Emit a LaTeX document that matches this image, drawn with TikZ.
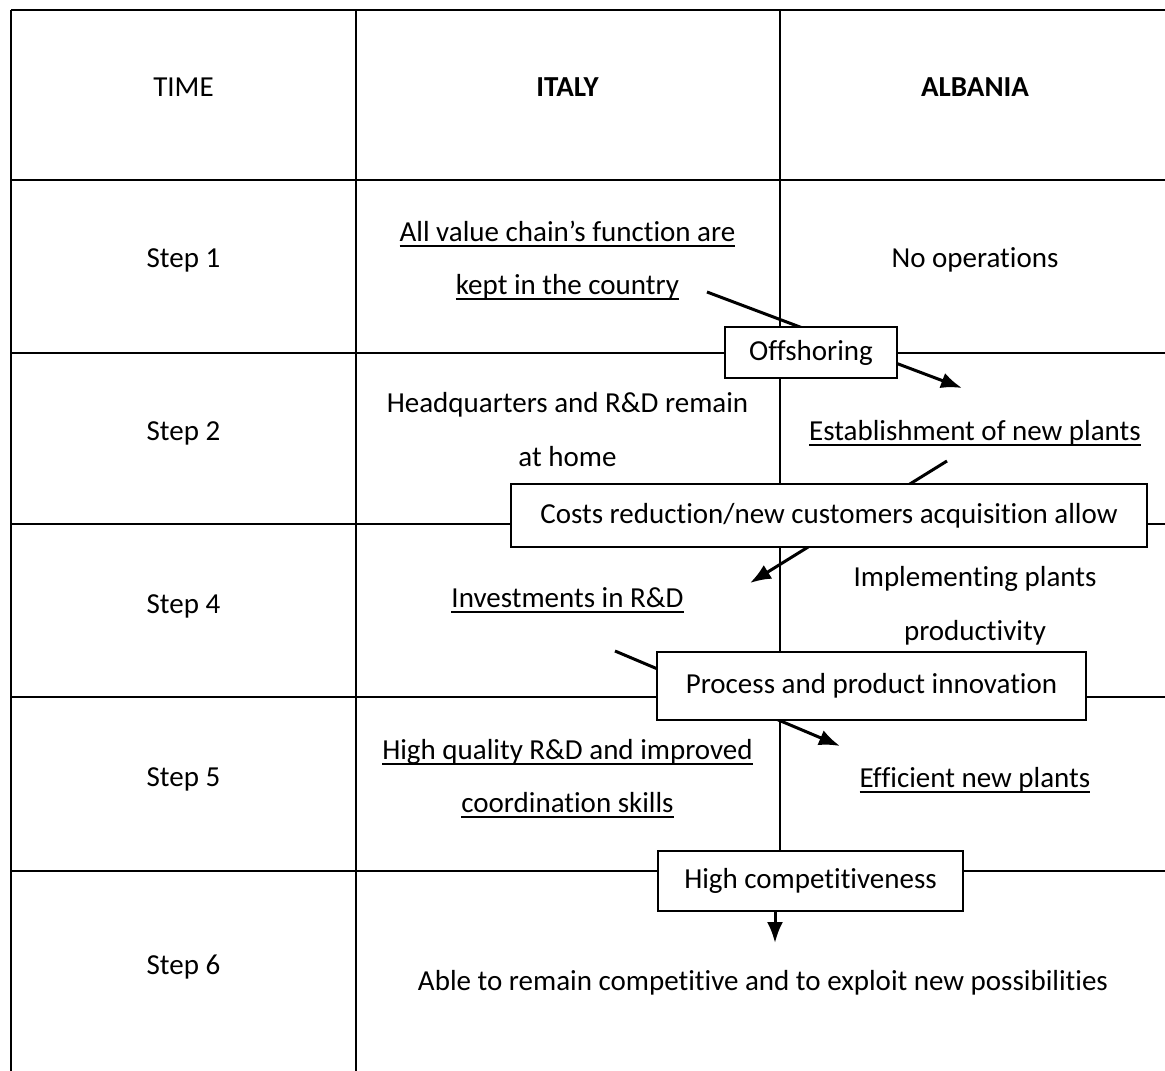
\documentclass[tikz,border=0pt]{standalone}
\usepackage{fontspec}
\setmainfont{Carlito}[Ligatures=CommonOff]
\usetikzlibrary{arrows.meta,calc}
\newcommand\myul[1]{\setbox0=\hbox{#1}\rlap{\rule[-5.5pt]{\wd0}{1.8pt}}\box0}
\begin{document}
\begin{tikzpicture}[x=1pt,y=-1pt,
  gridline/.style={line width=2pt},
  conn/.style={line width=3pt,-{Latex[length=21pt,width=16pt]}},
  txt/.style={anchor=base,inner sep=0pt,font=\fontsize{29}{35}\selectfont},
  boxnode/.style={draw,line width=2pt,fill=white,inner sep=0pt,font=\fontsize{29}{35}\selectfont}]
\useasboundingbox[fill=white] (0,0) rectangle (1165,1071);
% table lines
\foreach \yy in {10,180,353,524,697,871}{\draw[gridline] (11,\yy) -- (1165,\yy);}
\draw[gridline] (11,10) -- (11,1071);
\draw[gridline] (356,10) -- (356,1071);
\draw[gridline] (779.5,10) -- (779.5,860);
% free ends of connectors
\coordinate (a1s) at (707,292);
\coordinate (a1e) at (962,388);
\coordinate (a2s) at (947,461);
\coordinate (a2e) at (750,583);
\coordinate (a3s) at (615,651);
\coordinate (a3e) at (840,746);
\coordinate (a4e) at (775,943);
\draw[conn] (a1s) -- (a1e);
\draw[conn] (a2s) -- (a2e);
\draw[conn] (a3s) -- (a3e);
% boxes
\node[boxnode,minimum width=172pt,minimum height=51pt] (off) at (811,352.5) {Offshoring};
\node[boxnode,minimum width=636pt,minimum height=63pt] (cost) at (829,515.5) {Costs reduction/new customers acquisition allow};
\node[boxnode,minimum width=429pt,minimum height=68pt] (proc) at (871.5,686) {Process and product innovation};
\node[boxnode,minimum width=305pt,minimum height=60pt] (hc) at (810.5,881) {High competitiveness};
\draw[conn] (a4e |- hc.south) -- (a4e);
% header
\node[txt] (time) at (183.5,96) {TIME};
\node[txt] (italy) at (567.5,96) {\bfseries ITALY};
\node[txt] (albania) at (975,96) {\bfseries ALBANIA};
% steps
\node[txt] (s1) at (183.5,267) {Step 1};
\node[txt] (s2) at (183.5,440) {Step 2};
\node[txt] (s4) at (183.5,613) {Step 4};
\node[txt] (s5) at (183.5,786) {Step 5};
\node[txt] (s6) at (183.5,974) {Step 6};
% Italy column
\node[txt] (it1a) at (567.5,241) {\myul{All value chain’s function are}};
\node[txt] (it1b) at (567.5,294) {\myul{kept in the country}};
\node[txt] (it2a) at (567.5,412) {Headquarters and R\&D remain};
\node[txt] (it2b) at (567.5,466) {at home};
\node[txt] (it4) at (567.5,607) {\myul{Investments in R\&D}};
\node[txt] (it5a) at (567.5,759) {\myul{High quality R\&D and improved}};
\node[txt] (it5b) at (567.5,812) {\myul{coordination skills}};
% Albania column
\node[txt] (al1) at (975,267) {No operations};
\node[txt] (al2) at (975,440) {\myul{Establishment of new plants}};
\node[txt] (al4a) at (975,586) {Implementing plants};
\node[txt] (al4b) at (975,640) {productivity};
\node[txt] (al5) at (975,787) {\myul{Efficient new plants}};
% final row
\node[txt] (fin) at (763,990) {Able to remain competitive and to exploit new possibilities};
\end{tikzpicture}
\end{document}
